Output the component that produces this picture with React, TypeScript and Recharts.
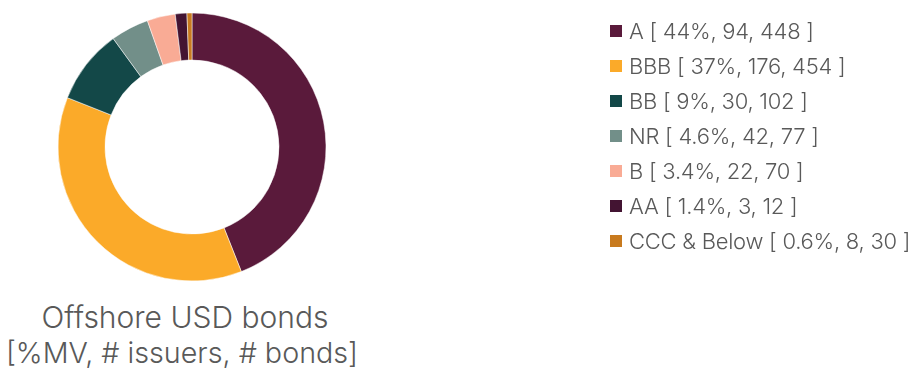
import React from "react";
import { PieChart, Pie, Cell, Legend } from "recharts";

const ratings = ["A", "BBB", "BB", "NR", "B", "AA", "CCC & Below"];
const mvLabels = ["44%", "37%", "9%", "4.6%", "3.4%", "1.4%", "0.6%"];
const mvValues = [44, 37, 9, 4.6, 3.4, 1.4, 0.6];
const issuers = [94, 176, 30, 42, 22, 3, 8];
const bonds = [448, 454, 102, 77, 70, 12, 30];
const colors = ["#5A1A3B", "#FBAA29", "#134848", "#728F89", "#F9AB95", "#431432", "#C87A1E"];

const data = ratings.map((r, i) => ({
  name: r,
  value: mvValues[i],
  label: `${r} [ ${mvLabels[i]}, ${issuers[i]}, ${bonds[i]} ]`,
}));

const FONT = "Inter, 'Noto Sans', sans-serif";

const LegendContent = () => (
  <div style={{ fontFamily: FONT, fontWeight: 300, fontSize: 22, color: "#595959", letterSpacing: -0.25 }}>
    {data.map((d, i) => (
      <div key={d.name} style={{ display: "flex", alignItems: "center", height: 35, whiteSpace: "nowrap" }}>
        <span style={{ display: "inline-block", width: 12, height: 12, background: colors[i], marginRight: 7 }} />
        <span>{d.label}</span>
      </div>
    ))}
  </div>
);

export default function App() {
  return (
    <div style={{ position: "fixed", left: 0, top: 0, width: 918, height: 371, background: "#fff" }}>
      <PieChart width={918} height={371} margin={{ top: 0, right: 0, bottom: 0, left: 0 }}>
        <Pie
          data={data}
          dataKey="value"
          nameKey="name"
          cx={192}
          cy={147}
          innerRadius={87}
          outerRadius={134}
          startAngle={90}
          endAngle={-270}
          stroke="#ffffff"
          strokeWidth={0.5}
          isAnimationActive={false}
        >
          {data.map((d, i) => (
            <Cell key={d.name} fill={colors[i]} />
          ))}
        </Pie>
        <Legend
          layout="vertical"
          align="right"
          verticalAlign="top"
          content={<LegendContent />}
          wrapperStyle={{ left: 610, top: 13, width: 310 }}
        />
        <text x={185} y={328} textAnchor="middle" fontFamily={FONT} fontWeight={300} fontSize={30} fill="#595959">
          Offshore USD bonds
        </text>
        <text x={182} y={363} textAnchor="middle" fontFamily={FONT} fontWeight={300} fontSize={28.7} fill="#595959">
          [%MV, # issuers, # bonds]
        </text>
      </PieChart>
    </div>
  );
}
